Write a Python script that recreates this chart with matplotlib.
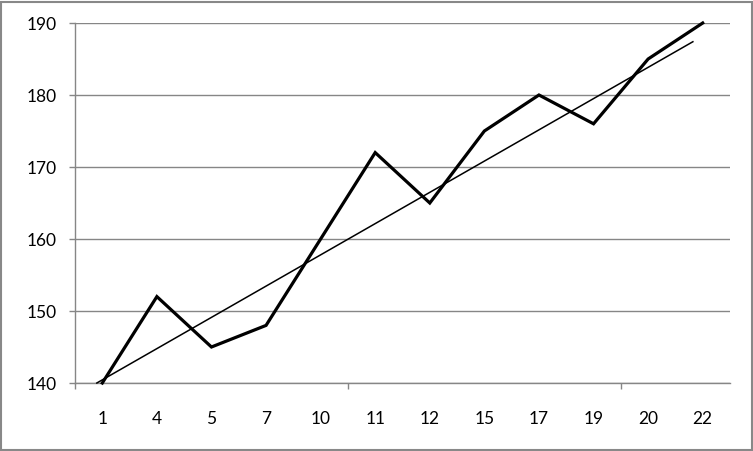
import matplotlib
matplotlib.use("Agg")
import matplotlib.pyplot as plt
from matplotlib.patches import Rectangle
from matplotlib.ticker import FixedLocator, NullFormatter

categories = ["1", "4", "5", "7", "10", "11", "12", "15", "17", "19", "20", "22"]
values = [140, 152, 145, 148, 160, 172, 165, 175, 180, 176, 185, 190]
# thin trend line (category-index position, value)
trend_pos = [-0.1, 10.82]
trend_vals = [140, 187.4]
y_ticks = [140, 150, 160, 170, 180, 190]

plt.rcParams['font.family'] = ['Lato', 'DejaVu Sans']

W, H = 753, 451
fig = plt.figure(figsize=(W / 100, H / 100), dpi=100)
ax = fig.add_axes([75 / W, (H - 383) / H, (730 - 75) / W, (383 - 23) / H])

x = list(range(len(categories)))
ax.plot(x, values, color='black', lw=2.3, solid_joinstyle='miter', zorder=4, clip_on=False)
ax.plot(trend_pos, trend_vals, color='black', lw=1.1, zorder=3, clip_on=False)

ax.set_xlim(-0.5, len(categories) - 0.5)
ax.set_ylim(140, 190)

grid_c = '#868686'
ax.set_yticks(y_ticks)
ax.set_yticklabels([str(v) for v in y_ticks])
ax.yaxis.grid(True, color=grid_c, lw=1.0)
ax.set_axisbelow(True)

ax.xaxis.set_major_locator(FixedLocator([-0.5, 4.5, 9.5]))
ax.xaxis.set_major_formatter(NullFormatter())
ax.xaxis.set_minor_locator(FixedLocator(x))
ax.set_xticklabels(categories, minor=True)

ax.tick_params(axis='x', which='major', length=4.5, color=grid_c, width=1.0, direction='out')
ax.tick_params(axis='x', which='minor', length=0, pad=20, labelsize=12.5)
ax.tick_params(axis='y', length=4.5, color=grid_c, width=1.0, pad=9, labelsize=12.5)

for s in ['top', 'right']:
    ax.spines[s].set_visible(False)
for s in ['left', 'bottom']:
    ax.spines[s].set_color(grid_c)
    ax.spines[s].set_linewidth(1.0)

fig.patches.append(Rectangle((1 / W, 1 / H), (W - 2.5) / W, (H - 2.5) / H,
                             transform=fig.transFigure, fill=False,
                             edgecolor='#888888', lw=1.5))

fig.savefig("out.png", dpi=100)
